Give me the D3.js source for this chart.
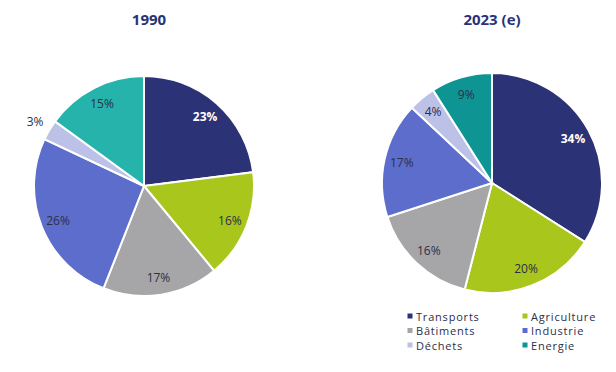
<!DOCTYPE html>
<html>
<head>
<meta charset="utf-8">
<script src="https://cdn.jsdelivr.net/npm/d3@7"></script>
<style>
  body { margin: 0; background: #fff; }
  svg text { font-family: "Open Sans", Lato, sans-serif; }
</style>
</head>
<body>
<div id="chart"></div>
<script>
// sectors, clockwise from 12 o'clock
const sectors = ["Transports", "Agriculture", "Bâtiments", "Industrie", "Déchets", "Energie"];
const values1990 = [23, 16, 17, 26, 3, 15];
const values2023 = [34, 20, 16, 17, 4, 9];
const titles = ["1990", "2023 (e)"];

const width = 616, height = 372, radius = 110;

const colors1990 = ["#2b3275", "#a8c61b", "#a6a6a8", "#5d6dcb", "#bcc1e8", "#26b3ab"];
const colors2023 = ["#2b3275", "#a8c61b", "#a6a6a8", "#5d6dcb", "#bcc1e8", "#0f9494"];

const svg = d3.select("#chart")
  .append("svg")
  .attr("width", width)
  .attr("height", height);

const pie = d3.pie().sort(null).value(d => d);
const arc = d3.arc().innerRadius(0).outerRadius(radius);
const labelArc = d3.arc().innerRadius(radius * 0.84).outerRadius(radius * 0.84);
const outerArc = d3.arc().innerRadius(radius * 1.15).outerRadius(radius * 1.15);

function drawPie(values, colors, cx, cy, title, smallOutside) {
  const g = svg.append("g").attr("transform", `translate(${cx},${cy})`);

  g.selectAll("path")
    .data(pie(values))
    .join("path")
    .attr("d", arc)
    .attr("fill", (d, i) => colors[i])
    .attr("stroke", "#fff")
    .attr("stroke-width", 2);

  // small slices get their label outside only on the 1990 pie
  g.selectAll("text.lbl")
    .data(pie(values))
    .join("text")
    .attr("class", "lbl")
    .attr("transform", d => `translate(${(smallOutside && d.data < 4 ? outerArc : labelArc).centroid(d)})`)
    .attr("text-anchor", "middle")
    .attr("dominant-baseline", "central")
    .attr("font-size", 12)
    .attr("font-weight", (d, i) => i === 0 ? "bold" : "normal")
    .attr("fill", (d, i) => i === 0 ? "#fff" : "#2b2f4a")
    .text(d => d.data + "%");

  svg.append("text")
    .attr("x", cx + (smallOutside ? 5 : 0))
    .attr("y", 25)
    .attr("text-anchor", "middle")
    .attr("font-size", 15)
    .attr("font-weight", "bold")
    .attr("fill", "#2b3275")
    .text(title);
}

drawPie(values1990, colors1990, 144, 186, titles[0], true);
drawPie(values2023, colors2023, 492, 183, titles[1], false);

// legend, two columns
const legend = svg.append("g");
sectors.forEach((s, i) => {
  const col = i % 2, row = Math.floor(i / 2);
  const x = 410 + col * 115, y = 316 + row * 14.5;
  legend.append("rect")
    .attr("x", x - 2.5).attr("y", y - 2.5)
    .attr("width", 5).attr("height", 5)
    .attr("fill", colors2023[i]);
  legend.append("text")
    .attr("x", x + 6).attr("y", y)
    .attr("dominant-baseline", "central")
    .attr("font-family", "Lato, sans-serif")
    .attr("font-size", 11)
    .attr("letter-spacing", 0.8)
    .attr("fill", "#2b2f4a")
    .text(s);
});
</script>
</body>
</html>
